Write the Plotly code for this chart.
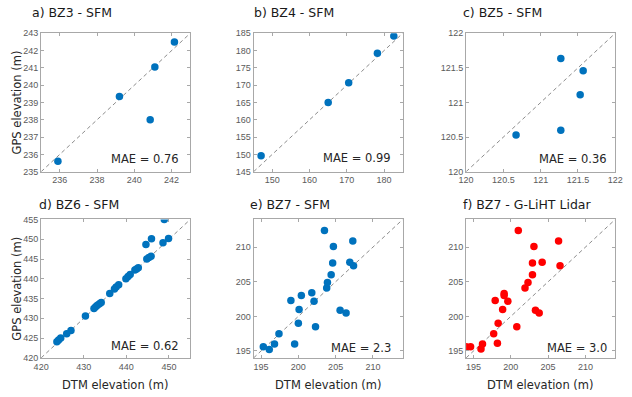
import plotly.graph_objects as go

W, H = 632, 397

# ---------------- data ----------------
titles = ["a) BZ3 - SFM", "b) BZ4 - SFM", "c) BZ5 - SFM",
          "d) BZ6 - SFM", "e) BZ7 - SFM", "f) BZ7 - G-LiHT Lidar"]
mae_labels = ["MAE = 0.76", "MAE = 0.99", "MAE = 0.36",
              "MAE = 0.62", "MAE = 2.3", "MAE = 3.0"]

bz3_dtm = [235.9, 239.2, 240.85, 241.1, 242.15]
bz3_gps = [235.6, 239.35, 238.0, 241.05, 242.5]

bz4_dtm = [147.0, 165.0, 170.5, 178.2, 182.6]
bz4_gps = [149.6, 165.0, 170.7, 179.2, 184.2]

bz5_dtm = [120.67, 121.27, 121.57, 121.53, 121.27]
bz5_gps = [120.53, 121.635, 121.46, 121.11, 120.60]

bz6_dtm = [448.9, 444.6, 445.9, 448.6, 449.9, 444.8, 445.3, 445.8,
           442.4, 442.8, 442.0, 440.9, 440.4, 439.9, 438.2, 437.6,
           437.2, 436.1, 434.1, 433.7, 433.2, 432.8, 432.4, 430.4,
           427.0, 426.0, 424.6, 424.1, 423.7]
bz6_gps = [455.0, 448.7, 450.1, 449.1, 450.2, 445.0, 445.4, 445.7,
           442.5, 442.8, 442.2, 441.1, 440.6, 440.0, 438.5, 437.9,
           437.4, 436.3, 434.0, 433.7, 433.3, 432.9, 432.5, 430.6,
           426.9, 426.1, 425.0, 424.5, 424.1]

bz7_sfm_dtm = [195.3, 196.1, 196.8, 197.4, 199.5, 200.0, 199.0, 200.1,
               200.4, 201.8, 202.1, 202.3, 203.5, 203.8, 203.9, 204.4,
               204.6, 204.7, 205.6, 206.4, 206.9, 207.3, 207.4]
bz7_sfm_gps = [195.6, 195.2, 196.0, 197.5, 196.0, 199.0, 202.3, 201.0,
               203.0, 203.4, 202.2, 198.5, 212.4, 204.1, 204.9, 206.0,
               207.7, 210.1, 200.9, 200.5, 207.8, 210.9, 207.3]

bz7_lidar_dtm = [194.0, 194.6, 196.0, 196.2, 197.7, 198.2, 198.3, 197.9,
                 198.9, 199.1, 199.1, 199.6, 200.8, 201.0, 201.9, 202.3,
                 202.9, 202.9, 203.1, 203.3, 203.8, 204.2, 206.4, 206.6]
bz7_lidar_gps = [195.6, 195.6, 195.3, 196.0, 197.5, 196.1, 199.0, 202.3,
                 201.0, 203.3, 203.0, 202.2, 198.5, 212.4, 204.1, 204.9,
                 206.0, 207.7, 210.1, 200.9, 200.5, 207.8, 210.9, 207.3]

panel_x = [bz3_dtm, bz4_dtm, bz5_dtm, bz6_dtm, bz7_sfm_dtm, bz7_lidar_dtm]
panel_y = [bz3_gps, bz4_gps, bz5_gps, bz6_gps, bz7_sfm_gps, bz7_lidar_gps]

ranges = [[235, 243], [145, 185], [120, 122], [420, 455], [194, 214], [194, 214]]
xticks = [[236, 238, 240, 242], [150, 160, 170, 180],
          [120, 120.5, 121, 121.5, 122], [420, 430, 440, 450],
          [195, 200, 205, 210], [195, 200, 205, 210]]
yticks = [list(range(235, 244)), list(range(145, 186, 5)),
          [120, 120.5, 121, 121.5, 122], list(range(420, 456, 5)),
          [195, 200, 205, 210], [195, 200, 205, 210]]

x_title = "DTM elevation (m)"
y_title = "GPS elevation (m)"

# ---------------- layout geometry (pixels) ----------------
col_px = [(34, 187), (252, 405), (470, 623)]
row_px = [(29, 171), (220, 362)]
title_pos = [(23, 8), (250, 8), (465, 8), (30, 205), (246, 205), (465, 205)]
mae_pos = [(178, 158), (395, 157), (617, 158), (178, 350), (395, 352), (617, 352)]

BLUE = "#0072BD"
RED = "#FF0000"
colors = [BLUE, BLUE, BLUE, BLUE, BLUE, RED]


def px(x):
    return x / W


def py(y):
    return 1 - y / H


fig = go.Figure()
layout = dict(
    width=W, height=H, margin=dict(l=0, r=0, t=0, b=0),
    paper_bgcolor="white", plot_bgcolor="white", showlegend=False,
)
annotations = []

for i in range(6):
    r, c = divmod(i, 3)
    xa = "xaxis" if i == 0 else f"xaxis{i+1}"
    ya = "yaxis" if i == 0 else f"yaxis{i+1}"
    xr = "x" if i == 0 else f"x{i+1}"
    yr = "y" if i == 0 else f"y{i+1}"
    lo, hi = ranges[i]
    # 1:1 reference line
    fig.add_trace(go.Scatter(x=[lo, hi], y=[lo, hi], xaxis=xr, yaxis=yr,
                             mode="lines", hoverinfo="skip",
                             line=dict(color="#8c8c8c", width=1, dash="4px,3px")))
    fig.add_trace(go.Scatter(x=panel_x[i], y=panel_y[i], xaxis=xr, yaxis=yr,
                             mode="markers",
                             marker=dict(color=colors[i], size=7.5, line=dict(width=0))))
    axcommon = dict(showgrid=False, zeroline=False, showline=True, mirror="ticks",
                    linecolor="#a8a8a8", linewidth=1, ticks="inside", ticklen=3,
                    tickcolor="#a8a8a8",
                    tickfont=dict(family="Liberation Sans, Arial", size=9, color="#5a5a5a"),
                    range=[lo, hi])
    layout[xa] = dict(axcommon, domain=[px(col_px[c][0]), px(col_px[c][1])],
                      anchor=yr, tickvals=xticks[i])
    layout[ya] = dict(axcommon, domain=[py(row_px[r][1]), py(row_px[r][0])],
                      anchor=xr, tickvals=yticks[i])

    tx, ty = title_pos[i]
    annotations.append(dict(text=titles[i], x=px(tx), y=py(ty), xref="paper", yref="paper",
                            xanchor="left", yanchor="middle", showarrow=False,
                            font=dict(family="DejaVu Sans", size=12.5, color="#1a1a1a")))
    mx, my = mae_pos[i]
    annotations.append(dict(text=mae_labels[i], x=px(mx), y=py(my), xref="paper", yref="paper",
                            xanchor="right", yanchor="middle", showarrow=False,
                            font=dict(family="DejaVu Sans", size=11.5, color="#262626")))
    if r == 1:
        annotations.append(dict(text=x_title, x=px((col_px[c][0] + col_px[c][1]) / 2), y=py(390),
                                xref="paper", yref="paper", xanchor="center", yanchor="middle",
                                showarrow=False,
                                font=dict(family="DejaVu Sans", size=11.5, color="#262626")))
    if c == 0:
        annotations.append(dict(text=y_title, x=0, y=py((row_px[r][0] + row_px[r][1]) / 2),
                                xref="paper", yref="paper", xanchor="left", yanchor="middle",
                                textangle=-90, showarrow=False,
                                font=dict(family="DejaVu Sans", size=11.5, color="#262626")))

layout["annotations"] = annotations
fig.update_layout(**layout)
fig.write_html("out.html")
